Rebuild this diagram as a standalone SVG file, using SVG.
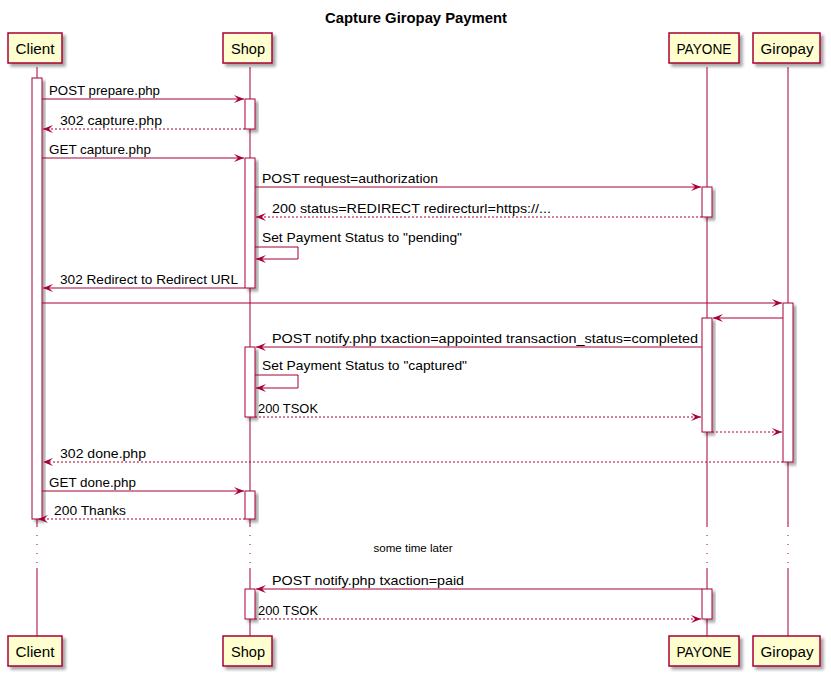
<svg xmlns="http://www.w3.org/2000/svg" width="831" height="678" viewBox="0 0 831 678">
<defs>
<filter id="sh" x="-20%" y="-20%" width="160%" height="160%">
<feDropShadow dx="3" dy="3" stdDeviation="1.5" flood-color="#000" flood-opacity="0.35"/>
</filter>
<marker id="ah" viewBox="0 0 10 8" refX="10" refY="4" markerWidth="10" markerHeight="8" markerUnits="userSpaceOnUse" orient="auto">
<path d="M0,0 L10,4 L0,8 L4,4 Z" fill="#A80036"/>
</marker>
</defs>
<style>
.pbox{fill:#FEFECE;stroke:#A80036;stroke-width:1.5;filter:url(#sh)}
.act{fill:#FFFFFF;stroke:#A80036;stroke-width:1;filter:url(#sh)}
.life{stroke:#A80036;stroke-width:1;fill:none}
.dly{stroke:#A80036;stroke-width:1;stroke-dasharray:1,8;fill:none}
.msg{stroke:#A80036;stroke-width:1;fill:none;marker-end:url(#ah)}
.ret{stroke:#A80036;stroke-width:1;fill:none;stroke-dasharray:2,2;marker-end:url(#ah)}
.pt{font-family:"Liberation Sans",Arial,sans-serif;font-size:14px;fill:#000;text-anchor:middle}
.lbl{font-family:"Liberation Sans",Arial,sans-serif;font-size:13px;fill:#000}
.title{font-family:"Liberation Sans",Arial,sans-serif;font-size:14.5px;font-weight:bold;fill:#000;text-anchor:middle}
.note{font-family:"Liberation Sans",Arial,sans-serif;font-size:11px;fill:#000;text-anchor:middle}
</style>
<rect width="831" height="678" fill="#FFFFFF"/>
<text class="title" x="416" y="23" textLength="182" lengthAdjust="spacingAndGlyphs">Capture Giropay Payment</text>

<g id="lifelines">
<path class="life" d="M37,67 V526 M37,568 V636"/>
<path class="dly" d="M37,526 V568"/>
<path class="life" d="M250,67 V526 M250,568 V636"/>
<path class="dly" d="M250,526 V568"/>
<path class="life" d="M707,67 V526 M707,568 V636"/>
<path class="dly" d="M707,526 V568"/>
<path class="life" d="M788,67 V526 M788,568 V636"/>
<path class="dly" d="M788,526 V568"/>
</g>

<g id="Client">
<rect class="pbox" x="8" y="33" width="54" height="30"/>
<text class="pt" x="35" y="54" textLength="39" lengthAdjust="spacingAndGlyphs">Client</text>
<rect class="pbox" x="8" y="636" width="54" height="30"/>
<text class="pt" x="35" y="657" textLength="39" lengthAdjust="spacingAndGlyphs">Client</text>
<rect class="act" x="32" y="78" width="10" height="441"/>
</g>

<g id="Shop">
<rect class="pbox" x="223" y="33" width="49" height="30"/>
<text class="pt" x="248" y="54" textLength="34" lengthAdjust="spacingAndGlyphs">Shop</text>
<rect class="pbox" x="223" y="636" width="49" height="30"/>
<text class="pt" x="248" y="657" textLength="34" lengthAdjust="spacingAndGlyphs">Shop</text>
<rect class="act" x="245" y="99" width="10" height="30"/>
<rect class="act" x="245" y="158" width="10" height="130"/>
<rect class="act" x="245" y="347" width="10" height="70"/>
<rect class="act" x="245" y="491" width="10" height="28"/>
<rect class="act" x="245" y="589" width="10" height="30"/>
</g>

<g id="PAYONE">
<rect class="pbox" x="669" y="33" width="70" height="30"/>
<text class="pt" x="704" y="54" textLength="55" lengthAdjust="spacingAndGlyphs">PAYONE</text>
<rect class="pbox" x="669" y="636" width="70" height="30"/>
<text class="pt" x="704" y="657" textLength="55" lengthAdjust="spacingAndGlyphs">PAYONE</text>
<rect class="act" x="702" y="187" width="10" height="30"/>
<rect class="act" x="702" y="318" width="10" height="114"/>
<rect class="act" x="702" y="589" width="10" height="30"/>
</g>

<g id="Giropay">
<rect class="pbox" x="753" y="33" width="67" height="30"/>
<text class="pt" x="787" y="54" textLength="53" lengthAdjust="spacingAndGlyphs">Giropay</text>
<rect class="pbox" x="753" y="636" width="67" height="30"/>
<text class="pt" x="787" y="657" textLength="53" lengthAdjust="spacingAndGlyphs">Giropay</text>
<rect class="act" x="783" y="303" width="10" height="159"/>
</g>

<g id="connectors">
<path class="msg" d="M42,99 H244"/>
<text class="lbl" x="49" y="95" textLength="111" lengthAdjust="spacingAndGlyphs">POST prepare.php</text>
<path class="ret" d="M245,129 H43"/>
<text class="lbl" x="60" y="125" textLength="102" lengthAdjust="spacingAndGlyphs">302 capture.php</text>
<path class="msg" d="M42,158 H244"/>
<text class="lbl" x="49" y="154" textLength="102" lengthAdjust="spacingAndGlyphs">GET capture.php</text>
<path class="msg" d="M255,187 H701"/>
<text class="lbl" x="262" y="183" textLength="176" lengthAdjust="spacingAndGlyphs">POST request=authorization</text>
<path class="ret" d="M702,217 H256"/>
<text class="lbl" x="272" y="213" textLength="279" lengthAdjust="spacingAndGlyphs">200 status=REDIRECT redirecturl=https://...</text>
<path class="msg" d="M255,247 H298 V259 H256"/>
<text class="lbl" x="262" y="242" textLength="200" lengthAdjust="spacingAndGlyphs">Set Payment Status to "pending"</text>
<path class="msg" d="M245,288 H43"/>
<text class="lbl" x="60" y="284" textLength="178" lengthAdjust="spacingAndGlyphs">302 Redirect to Redirect URL</text>
<path class="msg" d="M42,303 H782"/>
<path class="msg" d="M783,318 H713"/>
<path class="msg" d="M702,347 H256"/>
<text class="lbl" x="272" y="343" textLength="426" lengthAdjust="spacingAndGlyphs">POST notify.php txaction=appointed transaction_status=completed</text>
<path class="msg" d="M255,375 H298 V388 H256"/>
<text class="lbl" x="262" y="370" textLength="205" lengthAdjust="spacingAndGlyphs">Set Payment Status to "captured"</text>
<path class="ret" d="M255,417 H701"/>
<text class="lbl" x="258" y="413" textLength="60" lengthAdjust="spacingAndGlyphs">200 TSOK</text>
<path class="ret" d="M712,432 H782"/>
<path class="ret" d="M783,462 H43"/>
<text class="lbl" x="60" y="458" textLength="86" lengthAdjust="spacingAndGlyphs">302 done.php</text>
<path class="msg" d="M42,491 H244"/>
<text class="lbl" x="49" y="487" textLength="87" lengthAdjust="spacingAndGlyphs">GET done.php</text>
<path class="ret" d="M245,519 H38"/>
<text class="lbl" x="54" y="515" textLength="72" lengthAdjust="spacingAndGlyphs">200 Thanks</text>
<text class="note" x="413" y="552" textLength="79" lengthAdjust="spacingAndGlyphs">some time later</text>
<path class="msg" d="M702,589 H256"/>
<text class="lbl" x="272" y="585" textLength="192" lengthAdjust="spacingAndGlyphs">POST notify.php txaction=paid</text>
<path class="ret" d="M255,619 H701"/>
<text class="lbl" x="258" y="615" textLength="60" lengthAdjust="spacingAndGlyphs">200 TSOK</text>
</g>
</svg>
